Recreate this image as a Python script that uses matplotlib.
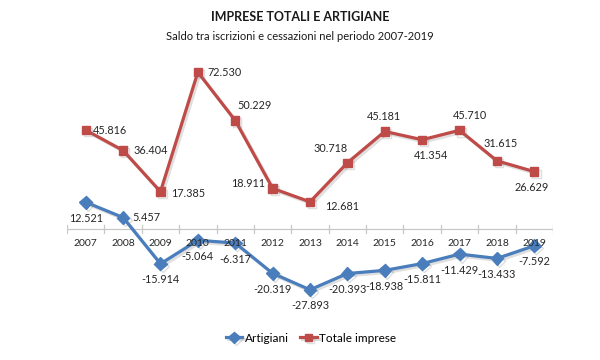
import matplotlib
matplotlib.use("Agg")
import matplotlib.pyplot as plt
import matplotlib.patheffects as pe
import numpy as np

years = ["2007", "2008", "2009", "2010", "2011", "2012", "2013",
         "2014", "2015", "2016", "2017", "2018", "2019"]
artigiani = [12521, 5457, -15914, -5064, -6317, -20319, -27893,
             -20393, -18938, -15811, -11429, -13433, -7592]
totale = [45816, 36404, 17385, 72530, 50229, 18911, 12681,
          30718, 45181, 41354, 45710, 31615, 26629]

# label offsets in pixels (dx, dy) and alignment
tot_offsets = [(7, 0, "left"), (10, 0, "left"), (11, -2, "left"), (10, 0, "left"),
               (2, 15, "left"), (-7, 5, "right"), (15, -5, "left"), (0, 14, "right"),
               (-1, 15, "center"), (9, -16, "center"), (10, 15, "center"),
               (4, 17, "center"), (-3, -16, "center")]
art_offsets = [(0, -16, "center"), (9, 0, "left")] + [(0, -16, "center")] * 11

BLUE = "#4a7dbc"
RED = "#be4b48"
TXT = "#262626"

plt.rcParams["font.family"] = ["Lato", "DejaVu Sans"]

fig = plt.figure(figsize=(6, 3.6), dpi=100)
ax = fig.add_axes([67 / 600, 1 - 316 / 360, (553 - 67) / 600, (316 - 56) / 360])

x = np.arange(len(years))
shadow = [pe.SimpleLineShadow(offset=(1.5, -1.5), alpha=0.25, shadow_color="gray"), pe.Normal()]

ax.plot(x, artigiani, color=BLUE, lw=2.3, marker="D", markersize=6.5,
        label="Artigiani", path_effects=shadow, zorder=3)
ax.plot(x, totale, color=RED, lw=2.3, marker="s", markersize=6,
        label="Totale imprese", path_effects=shadow, zorder=3)


def fmt(v):
    return "{:,}".format(v).replace(",", ".")


for xi, v, (dx, dy, ha) in zip(x, totale, tot_offsets):
    ax.annotate(fmt(v), (xi, v), xytext=(dx, dy), textcoords="offset pixels",
                ha=ha, va="center", fontsize=7.8, color=TXT, zorder=5)
for xi, v, (dx, dy, ha) in zip(x, artigiani, art_offsets):
    ax.annotate(fmt(v), (xi, v), xytext=(dx, dy), textcoords="offset pixels",
                ha=ha, va="center", fontsize=7.8, color=TXT, zorder=5)

ax.set_xlim(-0.5, len(years) - 0.5)
ax.set_ylim(-40000, 80000)
for s in ["top", "right", "left", "bottom"]:
    ax.spines[s].set_visible(False)
ax.set_yticks([])
ax.set_xticks([])
ax.axhline(0, color="#c8c8c8", lw=0.9, zorder=1)
# category tick marks on the zero line
for b in np.arange(-0.5, len(years), 1.0):
    ax.plot([b, b], [-1800, 1800], color="#c8c8c8", lw=0.9, zorder=1)
# year labels drawn above the lines, as in the source
for xi, yr in zip(x, years):
    ax.annotate(yr, (xi, 0), xytext=(0, -14), textcoords="offset pixels",
                ha="center", va="center", fontsize=7.5, color=TXT, zorder=6)

fig.text(0.5, 1 - 17 / 360, "IMPRESE TOTALI E ARTIGIANE", ha="center", va="center",
         fontsize=9, fontweight="bold", color="#1a1a1a")
fig.text(0.5, 1 - 36 / 360, "Saldo tra iscrizioni e cessazioni nel periodo 2007-2019",
         ha="center", va="center", fontsize=8, color="#1a1a1a")

fig.legend(loc="center", bbox_to_anchor=(311 / 600, 1 - 338 / 360), ncol=2,
           frameon=False, fontsize=8.5, handlelength=1.4, columnspacing=1.0,
           handletextpad=0.2, markerscale=0.9)

fig.savefig("out.png", dpi=100)
